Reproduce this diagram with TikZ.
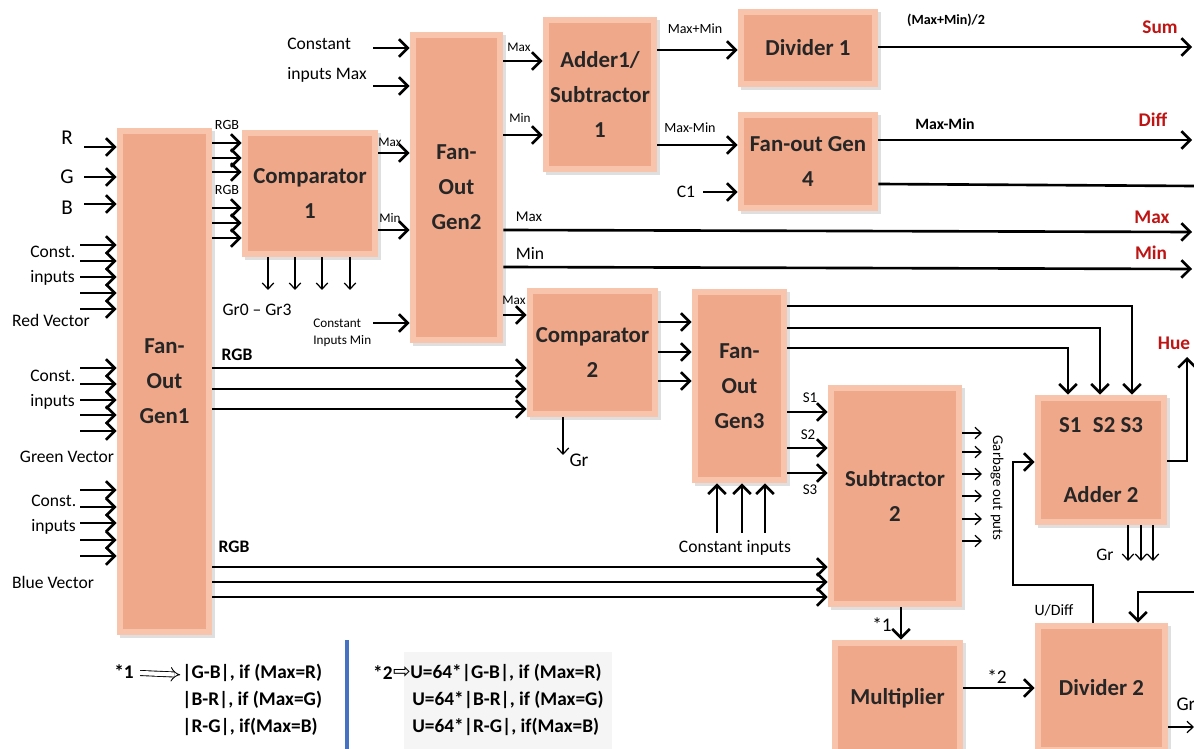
\documentclass[tikz,border=0pt]{standalone}
\usepackage{fontspec}
\setmainfont{Carlito}
\newfontfamily\dvfont{DejaVu Sans}
\usepackage{amsmath}
\usetikzlibrary{arrows.meta,shadows}

\definecolor{blockfill}{RGB}{240,168,138}
\definecolor{blockedge}{RGB}{248,196,172}
\definecolor{outred}{RGB}{190,20,20}
\definecolor{barblue}{RGB}{70,114,196}

\tikzset{
  block/.style={rectangle, inner sep=0pt, fill=blockedge, text=black!85,
    font=\bfseries\fontsize{13}{20}\selectfont, align=center,
    path picture={\fill[blockfill]
      ([shift={(0.12cm,-0.12cm)}]path picture bounding box.north west) rectangle
      ([shift={(-0.12cm,0.12cm)}]path picture bounding box.south east);},
    drop shadow={shadow xshift=1.5pt, shadow yshift=-1.5pt, opacity=0.25}},
  wire/.style={line width=1.5pt, -{Straight Barb[length=5pt,width=10pt]}},
  plain/.style={line width=1.5pt},
  thinwire/.style={line width=0.7pt, -{Straight Barb[length=3.5pt,width=6.5pt]}},
  tag/.style={inner sep=0pt, font=\fontsize{7.5}{9}\selectfont},
  txt/.style={inner sep=0pt, font=\fontsize{10}{14}\selectfont, align=left},
  outtag/.style={inner sep=0pt, text=outred, font=\bfseries\fontsize{11}{13}\selectfont},
  note/.style={inner sep=0pt, anchor=west, font=\bfseries\fontsize{11}{13}\selectfont}
}

\begin{document}
\begin{tikzpicture}[x=0.02cm, y=-0.02cm]
        \useasboundingbox (0,0) rectangle (1194,749);
        \clip (0,0) rectangle (1194,749);

        %blocks
        \node[block, minimum width=1.90cm, minimum height=10.14cm] (gen1) at (164.5,381.5) {Fan-\\Out\\Gen1};
        \node[block, minimum width=2.72cm, minimum height=2.54cm] (comp1) at (310,193.5) {Comparator\\1};
        \node[block, minimum width=1.86cm, minimum height=6.22cm] (gen2) at (456.5,187.5) {Fan-\\Out\\Gen2};
        \node[block, minimum width=2.28cm, minimum height=3.10cm] (addsub) at (600,94.5) {Adder1/\\Subtractor\\1};
        \node[block, minimum width=2.80cm, minimum height=1.56cm] (div1) at (808,48) {Divider 1};
        \node[block, minimum width=2.80cm, minimum height=1.98cm] (gen4) at (808,161.5) {Fan-out Gen\\4};
        \node[block, minimum width=2.62cm, minimum height=2.58cm] (comp2) at (592.5,352.5) {Comparator\\2};
        \node[block, minimum width=1.90cm, minimum height=3.88cm] (gen3) at (739.5,386) {Fan-\\Out\\Gen3};
        \node[block, minimum width=2.68cm, minimum height=4.44cm] (sub2) at (895,496) {Subtractor\\2};
        \node[block, minimum width=2.64cm, minimum height=2.60cm] (add2) at (1101,460) {S1\enspace S2 S3\\[20pt]Adder 2};
        \node[block, minimum width=2.62cm, minimum height=2.32cm] (mult) at (897.5,698) {Multiplier};
        \node[block, minimum width=2.66cm, minimum height=2.60cm] (div2) at (1101.5,688) {Divider 2};

        %inputs of Fan-Out Gen1
        \node[inner sep=0pt, font=\fontsize{12}{14}\selectfont] (inR) at (67,138) {R};
        \node[inner sep=0pt, font=\fontsize{12}{14}\selectfont] (inG) at (67,177) {G};
        \node[inner sep=0pt, font=\fontsize{12}{14}\selectfont] (inB) at (67,208) {B};
        \foreach \y in {147,177,204}
        \draw[wire] (84,\y) -- (gen1.west |- 0,\y);
        \node[txt, anchor=west] (constR) at (30,266) {Const.\\inputs};
        \node[txt, anchor=west] (constG) at (30,390) {Const.\\inputs};
        \node[txt, anchor=west] (constB) at (31,515) {Const.\\inputs};
        \foreach \y in {245,261,277,293,309,368,384,400,415,431,490,507,523,540,556}
        \draw[wire] (80,\y) -- (gen1.west |- 0,\y);
        \node[txt] (vecR) at (51,320) {Red Vector};
        \node[txt] (vecG) at (67,457) {Green Vector};
        \node[txt] (vecB) at (53,582) {Blue Vector};

        %Fan-Out Gen1 to Comparator 1
        \node[tag, font=\fontsize{8}{9}\selectfont] (rgbA) at (227,125) {RGB};
        \node[tag, font=\fontsize{8}{9}\selectfont] (rgbB) at (227,190) {RGB};
        \foreach \y in {143,158,172,208,223,238}
        \draw[wire] (gen1.east |- 0,\y) -- (comp1.west |- 0,\y);

        %Comparator 1 to Fan-Out Gen2
        \draw[wire] (comp1.east |- 0,153) -- (gen2.west |- 0,153);
        \draw[wire] (comp1.east |- 0,230) -- (gen2.west |- 0,230);
        \node[tag] (c1max) at (390,142) {Max};
        \node[tag] (c1min) at (390,218) {Min};
        \foreach \x in {268,295,322,350}
        \draw[thinwire] (comp1.south -| \x,0) -- (\x,290);
        \node[txt] (grA) at (257,310) {Gr0 -- Gr3};
        \node[txt, anchor=west, font=\fontsize{10}{17}\selectfont] (cmax) at (287,60) {Constant\\inputs Max};
        \draw[wire] (373,48) -- (gen2.west |- 0,48);
        \draw[wire] (373,86) -- (gen2.west |- 0,86);
        \node[tag, anchor=west, align=left, font=\fontsize{7.5}{10}\selectfont] (cmin) at (313,333) {Constant\\Inputs Min};
        \draw[wire] (373,323) -- (gen2.west |- 0,323);

        %Fan-Out Gen2 outputs
        \draw[wire] (gen2.east |- 0,61) -- (addsub.west |- 0,61);
        \draw[wire] (gen2.east |- 0,135) -- (addsub.west |- 0,135);
        \node[tag] (g2max) at (519,47) {Max};
        \node[tag] (g2min) at (520,118) {Min};
        \coordinate (endMax) at (1192,232);
        \coordinate (endMin) at (1192,269);
        \draw[wire] (gen2.east |- 0,230) -- (endMax);
        \draw[wire] (gen2.east |- 0,267) -- (endMin);
        \node[tag, font=\fontsize{8.5}{9}\selectfont] (lnMax) at (529,217) {Max};
        \node[tag, font=\fontsize{10}{12}\selectfont] (lnMin) at (530,253) {Min};
        \node[outtag] (oMax) at (1152,217) {Max};
        \node[outtag] (oMin) at (1151,253) {Min};
        \draw[wire] (gen2.east |- 0,315) -- (comp2.west |- 0,315);
        \node[tag] (g2max2) at (514,300) {Max};

        %Adder1/Subtractor 1 outputs
        \draw[wire] (addsub.east |- 0,50) -- (div1.west |- 0,50);
        \draw[wire] (addsub.east |- 0,145) -- (gen4.west |- 0,145);
        \node[tag, font=\fontsize{8}{9}\selectfont] (sumlbl) at (695,29) {Max+Min};
        \node[tag, font=\fontsize{8}{9}\selectfont] (diflbl) at (690,128) {Max-Min};
        \node[txt] (cone) at (686,192) {C1};
        \draw[wire] (cone.east) ++(8,0) -- (gen4.west |- cone);

        %Divider 1 and Fan-out Gen 4 outputs
        \coordinate (endSum) at (1192,47);
        \coordinate (endDiff) at (1192,140);
        \draw[wire] (div1.east |- 0,47) -- (endSum);
        \node[tag, font=\bfseries\fontsize{8}{9}\selectfont] (halflbl) at (946,20) {(Max+Min)/2};
        \node[outtag] (oSum) at (1160,27) {Sum};
        \draw[wire] (gen4.east |- 0,140) -- (endDiff);
        \node[tag, font=\bfseries\fontsize{9}{10}\selectfont] (mmlbl) at (945,124) {Max-Min};
        \node[outtag] (oDiff) at (1153,120) {Diff};
        \draw[plain] (gen4.east |- 0,184) -- (1194,186);

        %Comparator 2 and Fan-Out Gen3
        \foreach \y in {368,389,409}
        \draw[wire] (gen1.east |- 0,\y) -- (comp2.west |- 0,\y);
        \node[tag, font=\bfseries\fontsize{10}{12}\selectfont] (rgbC) at (237,355) {RGB};
        \foreach \y in {322,352,381}
        \draw[wire] (comp2.east |- 0,\y) -- (gen3.west |- 0,\y);
        \draw[thinwire] (comp2.south -| 563,0) -- (563,455);
        \node[txt, font=\fontsize{11}{13}\selectfont] (grB) at (579,460) {Gr};
        \draw[wire] (gen3.east |- 0,306) -| (add2.north -| 1132,0);
        \draw[wire] (gen3.east |- 0,328) -| (add2.north -| 1100,0);
        \draw[wire] (gen3.east |- 0,348) -| (add2.north -| 1068,0);
        \draw[wire] (gen3.east |- 0,412) -- (sub2.west |- 0,412);
        \draw[wire] (gen3.east |- 0,448) -- (sub2.west |- 0,448);
        \draw[wire] (gen3.east |- 0,473) -- (sub2.west |- 0,473);
        \node[tag, font=\fontsize{8.5}{10}\selectfont] (sA) at (810,398) {S1};
        \node[tag, font=\fontsize{8.5}{10}\selectfont] (sB) at (808,435) {S2};
        \node[tag, font=\fontsize{8.5}{10}\selectfont] (sC) at (810,490) {S3};
        \foreach \x in {717,742,765}
        \draw[wire] (\x,533) -- (gen3.south -| \x,0);
        \node[txt] (cin) at (735,548) {Constant inputs};

        %Fan-Out Gen1 to Subtractor 2
        \foreach \y in {567,582,597}
        \draw[wire] (gen1.east |- 0,\y) -- (sub2.west |- 0,\y);
        \node[tag, font=\bfseries\fontsize{10}{12}\selectfont] (rgbD) at (234,547) {RGB};

        %Subtractor 2 outputs
        \foreach \y in {433,452,474,496,519,541}
        \draw[thinwire] (sub2.east |- 0,\y) -- (982,\y);
        \node[tag, rotate=-90, font=\fontsize{8.5}{10}\selectfont] (garb) at (997,488) {Garbage out puts};
        \draw[wire] (sub2.south -| 901,0) -- (mult.north -| 901,0);
        \node[txt, font=\fontsize{11}{13}\selectfont] (star1) at (882,625) {*1};
        \draw[wire] (mult.east |- 0,688) -- (div2.west |- 0,688);
        \node[txt, font=\fontsize{11}{13}\selectfont] (star2) at (997,677) {*2};

        %Adder 2 and Divider 2
        \coordinate (endHue) at (1187,357);
        \draw[wire] (add2.east |- 0,461) -| (endHue);
        \node[outtag] (oHue) at (1174,343) {Hue};
        \foreach \x in {1128,1141,1153}
        \draw[thinwire] (add2.south -| \x,0) -- (\x,561);
        \node[txt] (grC) at (1105,555) {Gr};
        \draw[wire] (div2.north -| 1093,0) |- (1013,585) |- (add2.west |- 0,462);
        \node[tag, font=\fontsize{9}{10}\selectfont] (udiff) at (1054,610) {U/Diff};
        \draw[wire] (1194,592) -| (div2.north -| 1138,0);
        \draw[thinwire] (div2.east |- 0,727) -- (1194,727);
        \node[txt, font=\fontsize{11}{13}\selectfont] (grD) at (1186,704) {Gr};

        %notes
        \fill[black!4] (404,652) rectangle (612,749);
        \draw[barblue, line width=2.3pt] (347,640) -- (347,749);
        \node[note] (n1) at (114,672) {*1};
        \node[note] (n1a) at (182,673) {|G-B|, if (Max=R)};
        \node[note] (n1b) at (182,700) {|B-R|, if (Max=G)};
        \node[note] (n1c) at (182,727) {|R-G|, if(Max=B)};
        \draw[double, double distance=2.4pt, line width=0.5pt, -{Implies}] (n1.east) ++(6,1) -- ([xshift=-1pt,yshift=-1pt]n1a.west);
        \node[note, anchor=east] (n2) at (393,673) {*2};
        \node[inner sep=0pt, font=\dvfont\fontsize{12}{13}\selectfont] (n2arr) at (402,673) {⇨};
        \node[note] (n2a) at (410,673) {U=64*|G-B|, if (Max=R)};
        \node[note] (n2b) at (412,700) {U=64*|B-R|, if (Max=G)};
        \node[note] (n2c) at (412,727) {U=64*|R-G|, if(Max=B)};
\end{tikzpicture}
\end{document}
